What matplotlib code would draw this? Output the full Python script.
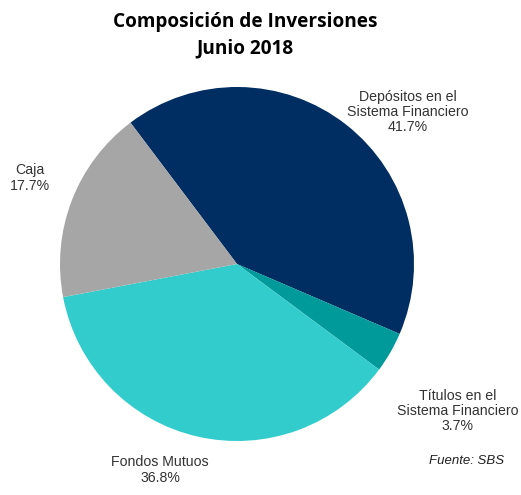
import matplotlib.pyplot as plt

categories = ['Depósitos en el\nSistema Financiero', 'Títulos en el\nSistema Financiero',
              'Fondos Mutuos', 'Caja']
shares = [41.7, 3.7, 36.8, 17.7]
colors = ['#002D62', '#009A9A', '#33CCCC', '#A6A6A6']

W, H = 521, 495
fig = plt.figure(figsize=(W / 100, H / 100), dpi=100)

# pie centre ~ (237, 264) px, radius ~177 px
cx, cy, r = 237, 264, 177
ax = fig.add_axes([(cx - r) / W, (H - cy - r) / H, 2 * r / W, 2 * r / H])
ax.pie(shares, colors=colors, startangle=127, counterclock=False, radius=1,
       wedgeprops=dict(linewidth=0))
ax.set_xlim(-1, 1)
ax.set_ylim(-1, 1)
ax.set_aspect('equal')
ax.axis('off')

fig.text(245 / W, 1 - 35 / H, 'Composición de Inversiones\nJunio 2018', ha='center', va='center',
         fontsize=13.7, fontweight='bold', family='Open Sans', linespacing=1.45)

label_pos = [(408, 112), (458, 411), (160, 470), (30, 178)]
for cat, val, (x, y) in zip(categories, shares, label_pos):
    fig.text(x / W, 1 - y / H, f'{cat}\n{val:.1f}%', ha='center', va='center',
             fontsize=10.2, family='Liberation Sans', color='#333333', linespacing=1.1)

fig.text(504 / W, 1 - 461 / H, 'Fuente: SBS', ha='right', va='center', fontsize=9.5,
         family='Liberation Sans', style='italic', color='#202020')

fig.savefig('out.png', dpi=100)
